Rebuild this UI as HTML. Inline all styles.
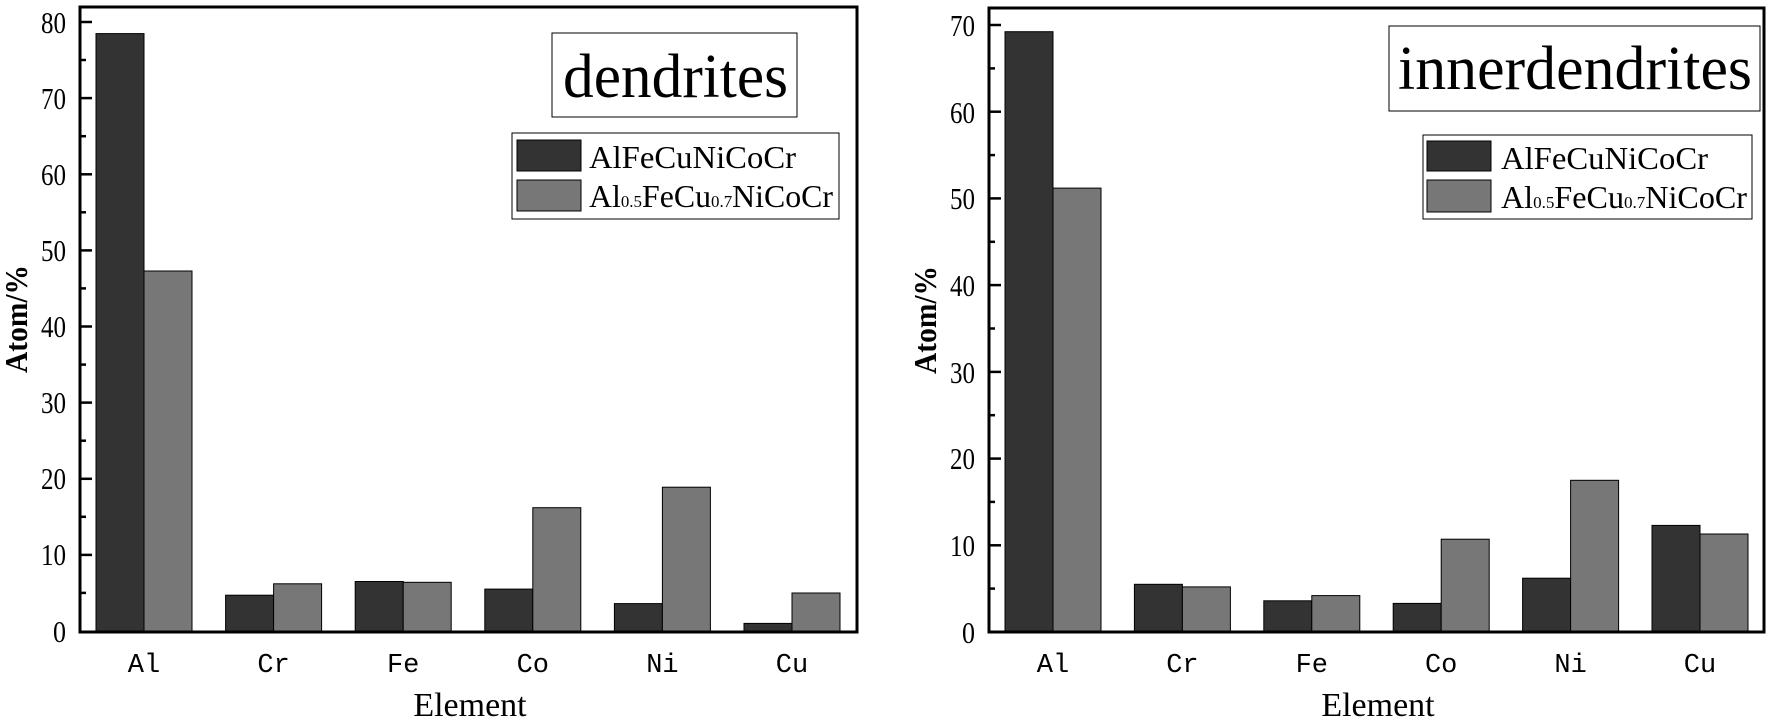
<!DOCTYPE html>
<html><head><meta charset="utf-8"><style>html,body{margin:0;padding:0;background:#fff}svg{display:block}</style></head><body>
<svg xmlns="http://www.w3.org/2000/svg" width="1773" height="722" viewBox="0 0 1773 722" font-family="Liberation Serif, serif">
<rect width="1773" height="722" fill="#fff"/>
<g>
<g stroke="#000" stroke-width="1">
<rect x="96" y="33.6" width="48" height="597.4" fill="#333"/>
<rect x="144" y="271" width="48" height="360" fill="#777"/>
<rect x="225.6" y="595.2" width="48" height="35.8" fill="#333"/>
<rect x="273.6" y="583.8" width="48" height="47.2" fill="#777"/>
<rect x="355.2" y="581.5" width="48" height="49.5" fill="#333"/>
<rect x="403.2" y="582.3" width="48" height="48.7" fill="#777"/>
<rect x="484.8" y="589.1" width="48" height="41.9" fill="#333"/>
<rect x="532.8" y="507.7" width="48" height="123.3" fill="#777"/>
<rect x="614.4" y="603.6" width="48" height="27.4" fill="#333"/>
<rect x="662.4" y="487.2" width="48" height="143.8" fill="#777"/>
<rect x="744" y="623.4" width="48" height="7.6" fill="#333"/>
<rect x="792" y="593" width="48" height="38" fill="#777"/>
</g>
<rect x="80" y="7" width="777" height="625" fill="none" stroke="#000" stroke-width="3"/>
<g stroke="#000" stroke-width="2.5">
<line x1="80" y1="22" x2="92" y2="22"/><line x1="80" y1="98.1" x2="92" y2="98.1"/><line x1="80" y1="174.3" x2="92" y2="174.3"/><line x1="80" y1="250.4" x2="92" y2="250.4"/><line x1="80" y1="326.5" x2="92" y2="326.5"/><line x1="80" y1="402.6" x2="92" y2="402.6"/><line x1="80" y1="478.8" x2="92" y2="478.8"/><line x1="80" y1="554.9" x2="92" y2="554.9"/>
<line x1="80" y1="60" x2="86" y2="60"/><line x1="80" y1="136.2" x2="86" y2="136.2"/><line x1="80" y1="212.3" x2="86" y2="212.3"/><line x1="80" y1="288.4" x2="86" y2="288.4"/><line x1="80" y1="364.6" x2="86" y2="364.6"/><line x1="80" y1="440.7" x2="86" y2="440.7"/><line x1="80" y1="516.8" x2="86" y2="516.8"/><line x1="80" y1="592.9" x2="86" y2="592.9"/>
</g>
<g font-size="31" text-anchor="end">
<text x="66" y="33" textLength="25" lengthAdjust="spacingAndGlyphs">80</text><text x="66" y="109" textLength="25" lengthAdjust="spacingAndGlyphs">70</text><text x="66" y="185" textLength="25" lengthAdjust="spacingAndGlyphs">60</text><text x="66" y="261" textLength="25" lengthAdjust="spacingAndGlyphs">50</text><text x="66" y="337" textLength="25" lengthAdjust="spacingAndGlyphs">40</text><text x="66" y="413" textLength="25" lengthAdjust="spacingAndGlyphs">30</text><text x="66" y="489" textLength="25" lengthAdjust="spacingAndGlyphs">20</text><text x="66" y="565" textLength="25" lengthAdjust="spacingAndGlyphs">10</text><text x="66" y="642" textLength="13" lengthAdjust="spacingAndGlyphs">0</text>
</g>
<g font-size="27" text-anchor="middle" font-family="Liberation Mono, monospace">
<text x="144" y="672">Al</text><text x="273.6" y="672">Cr</text><text x="403.2" y="672">Fe</text><text x="532.8" y="672">Co</text><text x="662.4" y="672">Ni</text><text x="792" y="672">Cu</text>
</g>
<text x="470" y="716" font-size="34" text-anchor="middle">Element</text>
<text transform="translate(27,319) rotate(-90)" font-size="32" font-weight="bold" text-anchor="middle" textLength="108" lengthAdjust="spacingAndGlyphs">Atom/%</text>
<rect x="552" y="33" width="245" height="84" fill="#fff" stroke="#000" stroke-width="1"/>
<text x="563" y="97" font-size="62" textLength="225" lengthAdjust="spacingAndGlyphs">dendrites</text>
<rect x="512" y="133" width="327" height="86" fill="#fff" stroke="#000" stroke-width="1"/>
<rect x="517" y="140" width="64" height="31" fill="#333" stroke="#000"/>
<rect x="517" y="180" width="64" height="31" fill="#777" stroke="#000"/>
<text x="589" y="168" font-size="32" textLength="207" lengthAdjust="spacingAndGlyphs">AlFeCuNiCoCr</text>
<text x="589" y="207" font-size="32" textLength="244" lengthAdjust="spacingAndGlyphs">Al<tspan font-size="17">0.5</tspan>FeCu<tspan font-size="17">0.7</tspan>NiCoCr</text>
</g>
<g>
<g stroke="#000" stroke-width="1">
<rect x="1005" y="31.7" width="48" height="600.3" fill="#333"/>
<rect x="1053" y="188.1" width="48" height="443.9" fill="#777"/>
<rect x="1134.4" y="584.3" width="48" height="47.7" fill="#333"/>
<rect x="1182.4" y="586.9" width="48" height="45.1" fill="#777"/>
<rect x="1263.8" y="600.8" width="48" height="31.2" fill="#333"/>
<rect x="1311.8" y="595.6" width="48" height="36.4" fill="#777"/>
<rect x="1393.2" y="603.4" width="48" height="28.6" fill="#333"/>
<rect x="1441.2" y="539.2" width="48" height="92.8" fill="#777"/>
<rect x="1522.6" y="578.2" width="48" height="53.8" fill="#333"/>
<rect x="1570.6" y="480.3" width="48" height="151.7" fill="#777"/>
<rect x="1652" y="525.4" width="48" height="106.6" fill="#333"/>
<rect x="1700" y="534" width="48" height="98" fill="#777"/>
</g>
<rect x="989" y="8" width="775" height="624" fill="none" stroke="#000" stroke-width="3"/>
<g stroke="#000" stroke-width="2.5">
<line x1="989" y1="25" x2="1001" y2="25"/><line x1="989" y1="111.7" x2="1001" y2="111.7"/><line x1="989" y1="198.4" x2="1001" y2="198.4"/><line x1="989" y1="285.1" x2="1001" y2="285.1"/><line x1="989" y1="371.9" x2="1001" y2="371.9"/><line x1="989" y1="458.6" x2="1001" y2="458.6"/><line x1="989" y1="545.3" x2="1001" y2="545.3"/>
<line x1="989" y1="68.4" x2="995" y2="68.4"/><line x1="989" y1="155.1" x2="995" y2="155.1"/><line x1="989" y1="241.8" x2="995" y2="241.8"/><line x1="989" y1="328.5" x2="995" y2="328.5"/><line x1="989" y1="415.2" x2="995" y2="415.2"/><line x1="989" y1="501.9" x2="995" y2="501.9"/><line x1="989" y1="588.6" x2="995" y2="588.6"/>
</g>
<g font-size="31" text-anchor="end">
<text x="975" y="36" textLength="25" lengthAdjust="spacingAndGlyphs">70</text><text x="975" y="123" textLength="25" lengthAdjust="spacingAndGlyphs">60</text><text x="975" y="209" textLength="25" lengthAdjust="spacingAndGlyphs">50</text><text x="975" y="296" textLength="25" lengthAdjust="spacingAndGlyphs">40</text><text x="975" y="383" textLength="25" lengthAdjust="spacingAndGlyphs">30</text><text x="975" y="469" textLength="25" lengthAdjust="spacingAndGlyphs">20</text><text x="975" y="556" textLength="25" lengthAdjust="spacingAndGlyphs">10</text><text x="975" y="643" textLength="13" lengthAdjust="spacingAndGlyphs">0</text>
</g>
<g font-size="27" text-anchor="middle" font-family="Liberation Mono, monospace">
<text x="1053" y="672">Al</text><text x="1182.4" y="672">Cr</text><text x="1311.8" y="672">Fe</text><text x="1441.2" y="672">Co</text><text x="1570.6" y="672">Ni</text><text x="1700" y="672">Cu</text>
</g>
<text x="1378" y="716" font-size="34" text-anchor="middle">Element</text>
<text transform="translate(936,320) rotate(-90)" font-size="32" font-weight="bold" text-anchor="middle" textLength="108" lengthAdjust="spacingAndGlyphs">Atom/%</text>
<rect x="1389" y="26" width="371" height="85" fill="#fff" stroke="#000" stroke-width="1"/>
<text x="1398" y="89" font-size="62" textLength="354" lengthAdjust="spacingAndGlyphs">innerdendrites</text>
<rect x="1423" y="135" width="329" height="84" fill="#fff" stroke="#000" stroke-width="1"/>
<rect x="1427" y="141" width="64" height="30" fill="#333" stroke="#000"/>
<rect x="1427" y="180" width="64" height="32" fill="#777" stroke="#000"/>
<text x="1501" y="169" font-size="32" textLength="207" lengthAdjust="spacingAndGlyphs">AlFeCuNiCoCr</text>
<text x="1501" y="208" font-size="32" textLength="246" lengthAdjust="spacingAndGlyphs">Al<tspan font-size="17">0.5</tspan>FeCu<tspan font-size="17">0.7</tspan>NiCoCr</text>
</g>
</svg>
</body></html>
